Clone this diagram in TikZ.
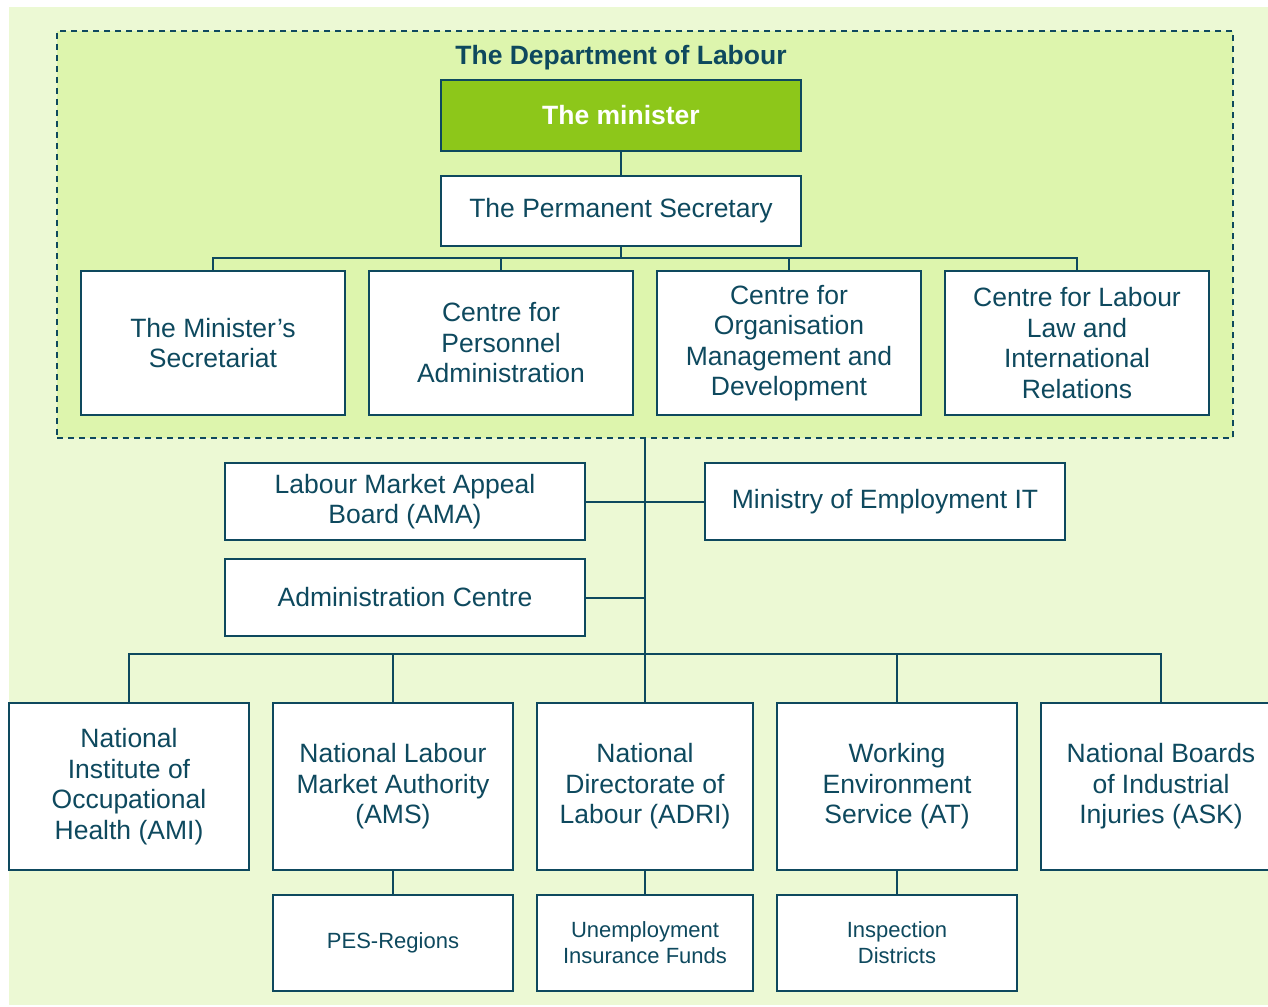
\documentclass[tikz,border=0pt]{standalone}
\usepackage{fontspec}
\setmainfont{Liberation Sans}
\usetikzlibrary{positioning}
\definecolor{deptteal}{RGB}{14,73,94}
\definecolor{ministergreen}{RGB}{141,199,26}
\definecolor{deptfill}{RGB}{221,245,173}
\definecolor{pagefill}{RGB}{236,249,212}
\tikzstyle{unit} = [rectangle, draw=deptteal, line width=2pt, fill=white, text=deptteal, align=center, inner sep=0pt, font=\fontsize{26.5}{30.5}\selectfont]
\tikzstyle{centre} = [unit, minimum width=264pt, minimum height=144pt]
\tikzstyle{agency} = [unit, minimum width=240pt, minimum height=167pt]
\tikzstyle{office} = [unit, minimum width=240pt, minimum height=96pt, font=\fontsize{22}{26}\selectfont]
\tikzstyle{board} = [unit, minimum width=360pt, minimum height=77pt]
\tikzstyle{link} = [draw=deptteal, line width=2pt]

\begin{document}
\begin{tikzpicture}[x=1pt, y=-1pt]
\useasboundingbox (0,0) rectangle (1268,1006);
\fill [pagefill] (9,7) rectangle (1268,1005);

\node (dept) [rectangle, draw=deptteal, line width=2pt, dash pattern=on 6pt off 5pt, fill=deptfill, minimum width=1176pt, minimum height=407pt] at (645,234.5) {};
\node (title) [text=deptteal, font=\fontsize{26.5}{30.5}\selectfont\bfseries] at (621,57.5) {The Department of Labour};
\node (minister) [unit, fill=ministergreen, text=white, font=\fontsize{26.5}{30.5}\selectfont\bfseries, minimum width=360pt, minimum height=71pt] at (621,115.5) {The minister};
\node (permsec) [unit, minimum width=360pt, minimum height=70pt, below=23pt of minister] {The Permanent Secretary};

\node (minsec) [centre] at (213,343) {The Minister’s\\Secretariat};
\node (personnel) [centre, right=22pt of minsec] {Centre for\\Personnel\\Administration};
\node (orgmgmt) [centre, right=22pt of personnel] {Centre for\\Organisation\\Management and\\Development};
\node (labourlaw) [centre, right=22pt of orgmgmt] {Centre for Labour\\Law and\\International\\Relations};

\node (appeal) [board] at (405,501.5) {Labour Market Appeal\\Board (AMA)};
\node (empit) [board, right=118pt of appeal] {Ministry of Employment IT};
\node (admin) [board, below=17pt of appeal] {Administration Centre};

\node (ami) [agency] at (129,786.5) {National\\Institute of\\Occupational\\Health (AMI)};
\node (ams) [agency, right=22pt of ami] {National Labour\\Market Authority\\(AMS)};
\node (adri) [agency, minimum width=216pt, right=22pt of ams] {National\\Directorate of\\Labour (ADRI)};
\node (at) [agency, right=22pt of adri] {Working\\Environment\\Service (AT)};
\node (ask) [agency, right=22pt of at] {National Boards\\of Industrial\\Injuries (ASK)};

\node (pes) [office, below=23pt of ams] {PES-Regions};
\node (uif) [office, minimum width=216pt, below=23pt of adri] {Unemployment\\Insurance Funds};
\node (insp) [office, below=23pt of at] {Inspection\\Districts};

% connectors inside the department
\draw [link] (minister) -- (permsec);
\path ([yshift=12pt]minsec.north) coordinate (minsecbus);
\coordinate (topbus) at (minsecbus -| permsec.south);
\draw [link] (permsec.south) -- (topbus);
\foreach \n in {minsec,personnel,orgmgmt,labourlaw}
  \draw [link] (\n.north) |- (topbus);

% trunk and side boards
\draw [link] (dept.south -| adri.north) -- (adri.north);
\draw [link] (appeal) -- (empit);
\draw [link] (admin.east) -- (admin.east -| adri.north);

% agencies
\path ([yshift=48pt]ami.north) coordinate (amibus);
\coordinate (lowbus) at (amibus -| adri.north);
\foreach \n in {ami,ams,at,ask}
  \draw [link] (\n.north) |- (lowbus);
\draw [link] (ams) -- (pes);
\draw [link] (adri) -- (uif);
\draw [link] (at) -- (insp);
\end{tikzpicture}
\end{document}
